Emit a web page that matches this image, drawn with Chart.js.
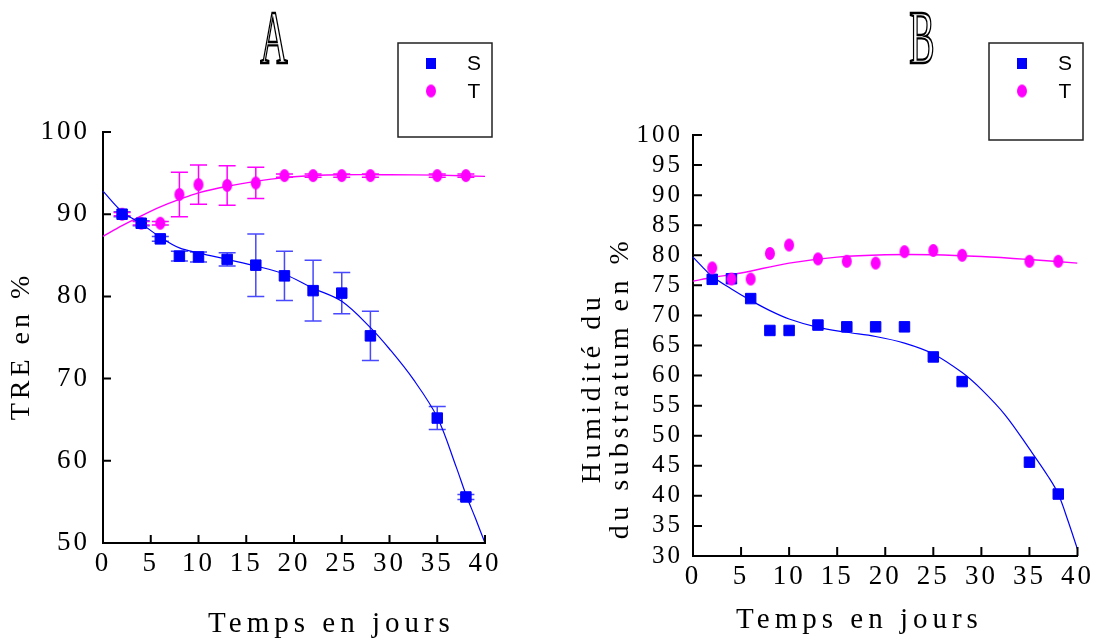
<!DOCTYPE html>
<html><head><meta charset="utf-8">
<script src="https://cdn.jsdelivr.net/npm/chart.js@4.4.1/dist/chart.umd.min.js"></script>
<style>
html,body{margin:0;padding:0;background:#fff;}
#wrap{position:relative;width:1096px;height:639px;overflow:hidden;background:#fff;}
canvas{position:absolute;top:0;}
</style></head><body>
<div id="wrap">
<canvas id="cA" width="548" height="639" style="left:0px"></canvas>
<canvas id="cB" width="548" height="639" style="left:548px"></canvas>
</div>
<script>
// ---------- data ----------
const days = [2, 4, 6, 8, 10, 13, 16, 19, 22, 25, 28, 35, 38];
const xTicks = [0, 5, 10, 15, 20, 25, 30, 35, 40];
const seriesNames = ['S', 'T'];

// Panel A : TRE en %
const treS    = [90.0, 88.9, 87.0, 84.9, 84.8, 84.5, 83.8, 82.5, 80.7, 80.4, 75.2, 65.2, 55.6];
const treSErr = [0.3, 0.3, 0.3, 0.6, 0.6, 0.8, 3.8, 3.0, 3.7, 2.5, 3.0, 1.4, 0.3];
const treT    = [90.0, 88.9, 88.9, 92.4, 93.6, 93.5, 93.8, 94.7, 94.7, 94.7, 94.7, 94.7, 94.7];
const treTErr = [0.2, 0.2, 0.2, 2.7, 2.4, 2.4, 1.9, 0.2, 0.2, 0.2, 0.2, 0.2, 0.2];
const treTicks = [50, 60, 70, 80, 90, 100];
// trend curves of panel A
const fitADaysS = [0, 2, 4, 6, 8, 10, 13, 16, 19, 22, 25, 28, 30, 32.5, 35, 37, 38, 39, 40];
const fitAS     = [92.8, 90.3, 88.85, 87.2, 85.9, 85.3, 84.5, 83.7, 82.7, 81.0, 79.4, 76.2, 73.6, 69.9, 65.3, 59.2, 55.9, 53.0, 50.0];
const fitADaysT = [0, 2, 4, 6, 8, 10, 13, 16, 19, 22, 25, 30, 35, 40];
const fitAT     = [87.3, 88.6, 89.8, 90.9, 91.8, 92.6, 93.4, 94.0, 94.45, 94.7, 94.8, 94.8, 94.75, 94.6];

// Panel B : Humidité du substratum en %
const humS = [76.0, 76.1, 72.8, 67.5, 67.5, 68.4, 68.1, 68.1, 68.1, 63.1, 59.0, 45.6, 40.3];
const humT = [77.9, 76.05, 76.05, 80.3, 81.7, 79.4, 79.0, 78.7, 80.6, 80.8, 80.0, 79.0, 79.0];
const humTicks = [30, 35, 40, 45, 50, 55, 60, 65, 70, 75, 80, 85, 90, 95, 100];
const fitBDaysS = [0, 2, 4, 6, 8, 10, 13, 16, 19, 22, 25, 28, 30, 32.5, 35, 37, 38, 39, 40];
const fitBS     = [79.7, 76.5, 74.4, 72.5, 70.8, 69.4, 68.0, 67.2, 66.5, 65.4, 63.6, 60.5, 57.7, 53.4, 47.8, 43.1, 40.3, 35.9, 31.1];
const fitBDaysT = [0, 2, 5, 10, 15, 20, 25, 30, 35, 40];
const fitBT     = [75.7, 76.3, 77.05, 78.7, 79.7, 80.1, 80.1, 79.8, 79.3, 78.7];

// ---------- helpers ----------
const SERIF = '"Liberation Serif", "Times New Roman", serif';
const SANS = '"Liberation Sans", Arial, sans-serif';
const BLUE = '#0000ff', MAGENTA = '#ff00ff';

function ellipseImg(w, h, color) {
  const c = document.createElement('canvas');
  c.width = w + 2; c.height = h + 2;
  const g = c.getContext('2d');
  g.fillStyle = color;
  g.beginPath();
  g.ellipse(c.width / 2, c.height / 2, w / 2, h / 2, 0, 0, Math.PI * 2);
  g.fill();
  return c;
}
const dotImg = ellipseImg(10, 13, MAGENTA);
const pts = (xs, ys) => xs.map((x, i) => ({x: x, y: ys[i]}));

const decor = {
  id: 'decor',
  beforeDraw(chart) {
    chart.ctx.letterSpacing = chart.options.plugins.decor.tickSpacing || '0px';
  },
  beforeDatasetsDraw(chart) {
    const {ctx, scales: {x, y}} = chart;
    chart.data.datasets.forEach(ds => {
      if (!ds.errors) return;
      ctx.save();
      ctx.strokeStyle = ds.errorColor;
      ctx.lineWidth = 1.5;
      ds.data.forEach((p, j) => {
        const e = ds.errors[j];
        const px = x.getPixelForValue(p.x);
        const yt = y.getPixelForValue(p.y + e), yb = y.getPixelForValue(p.y - e);
        ctx.beginPath();
        ctx.moveTo(px, yt); ctx.lineTo(px, yb);
        ctx.moveTo(px - 8.5, yt); ctx.lineTo(px + 8.5, yt);
        ctx.moveTo(px - 8.5, yb); ctx.lineTo(px + 8.5, yb);
        ctx.stroke();
      });
      ctx.restore();
    });
  },
  afterDraw(chart) {
    const o = chart.options.plugins.decor;
    const {ctx, chartArea: ca, scales: {x, y}} = chart;
    ctx.save();
    ctx.letterSpacing = '0px';
    // inward tick marks
    ctx.strokeStyle = '#000'; ctx.lineWidth = 2;
    ctx.beginPath();
    y.ticks.forEach(t => { const py = y.getPixelForValue(t.value); ctx.moveTo(ca.left, py); ctx.lineTo(ca.left + o.tickLen, py); });
    x.ticks.forEach(t => { const px = x.getPixelForValue(t.value); ctx.moveTo(px, ca.bottom); ctx.lineTo(px, ca.bottom - o.tickLen); });
    ctx.stroke();
    // panel letter (outlined)
    ctx.save();
    ctx.font = '76px ' + SERIF;
    ctx.textAlign = 'center'; ctx.textBaseline = 'alphabetic';
    ctx.translate(o.letter.x, o.letter.y);
    ctx.scale(0.5, 1);
    ctx.lineWidth = 2.4; ctx.strokeStyle = '#000';
    ctx.strokeText(o.letter.text, 0, 0);
    ctx.restore();
    // x title
    ctx.fillStyle = '#000';
    ctx.font = '29px ' + SERIF;
    ctx.letterSpacing = '5px';
    ctx.textAlign = 'center'; ctx.textBaseline = 'middle';
    ctx.fillText(o.xTitle.text, o.xTitle.x + 2.5, o.xTitle.y);
    // y title
    ctx.font = '28px ' + SERIF;
    ctx.letterSpacing = o.yTitle.spacing;
    o.yTitle.lines.forEach((ln, i) => {
      ctx.save();
      ctx.translate(o.yTitle.x[i], o.yTitle.y);
      ctx.rotate(-Math.PI / 2);
      ctx.fillText(ln, 2, 0);
      ctx.restore();
    });
    // legend box
    ctx.letterSpacing = '0px';
    const L = o.legend;
    ctx.strokeStyle = '#222'; ctx.lineWidth = 1.5;
    ctx.strokeRect(L.x, L.y, L.w, L.h);
    ctx.fillStyle = BLUE;
    ctx.fillRect(L.x + 28, L.y + 15, 10, 11);
    ctx.drawImage(dotImg, L.x + 33 - dotImg.width / 2, L.y + 48 - dotImg.height / 2);
    ctx.fillStyle = '#000';
    ctx.font = '21px ' + SANS;
    ctx.textAlign = 'center'; ctx.textBaseline = 'middle';
    ctx.fillText(seriesNames[0], L.x + 76, L.y + 21);
    ctx.fillText(seriesNames[1], L.x + 76, L.y + 49);
    ctx.restore();
  }
};

function makeChart(id, p) {
  return new Chart(document.getElementById(id), {
    type: 'scatter',
    data: {
      datasets: [
        {label: seriesNames[0], data: pts(days, p.S), pointStyle: 'rect', pointRadius: 7.4, borderWidth: 1,
         backgroundColor: BLUE, borderColor: BLUE, errors: p.SErr, errorColor: 'rgba(40,40,255,0.85)', order: p.sOrder},
        {label: seriesNames[1], data: pts(days, p.T), pointStyle: dotImg, pointRadius: 6,
         backgroundColor: MAGENTA, borderColor: MAGENTA, errors: p.TErr, errorColor: MAGENTA, order: p.tOrder},
        {type: 'line', label: 'S (courbe)', data: pts(p.fitDaysS, p.fitS), borderColor: BLUE, borderWidth: 1.2,
         pointRadius: 0, fill: false, tension: 0.35, order: 5},
        {type: 'line', label: 'T (courbe)', data: pts(p.fitDaysT, p.fitT), borderColor: MAGENTA, borderWidth: 1.4,
         pointRadius: 0, fill: false, tension: 0.35, order: 6}
      ]
    },
    options: {
      responsive: false, animation: false, devicePixelRatio: 1,
      layout: {padding: {top: p.top, right: p.right, left: 0, bottom: 0}},
      plugins: {legend: {display: false}, tooltip: {enabled: false}, decor: p.decor},
      scales: {
        x: {type: 'linear', min: 0, max: 40,
            afterBuildTicks: s => { s.ticks = xTicks.map(v => ({value: v})); },
            ticks: {color: '#000', font: {family: SERIF, size: 27}, padding: 5, maxRotation: 0, autoSkip: false},
            grid: {display: true, drawOnChartArea: false, drawTicks: false},
            border: {display: true, color: '#000', width: 2},
            afterFit: s => { s.height = p.xH; }},
        y: {type: 'linear', min: p.yTicks[0], max: p.yTicks[p.yTicks.length - 1],
            afterBuildTicks: s => { s.ticks = p.yTicks.map(v => ({value: v})); },
            ticks: {color: '#000', font: {family: SERIF, size: p.yFont}, padding: p.yPad, autoSkip: false},
            grid: {display: true, drawOnChartArea: false, drawTicks: false},
            border: {display: true, color: '#000', width: 2},
            afterFit: s => { s.width = p.yW; }}
      }
    },
    plugins: [decor]
  });
}

makeChart('cA', {
  S: treS, SErr: treSErr, T: treT, TErr: treTErr, sOrder: 1, tOrder: 2,
  fitDaysS: fitADaysS, fitS: fitAS, fitDaysT: fitADaysT, fitT: fitAT,
  yTicks: treTicks, yFont: 27, yPad: 13, yW: 103, xH: 96, top: 132, right: 63,
  decor: {tickSpacing: '3px', tickLen: 8,
    letter: {text: 'A', x: 274, y: 63},
    xTitle: {text: 'Temps en jours', x: 329, y: 624},
    yTitle: {lines: ['TRE en %'], x: [22], y: 348, spacing: '4px'},
    legend: {x: 398, y: 43, w: 94, h: 94}}
});

makeChart('cB', {
  S: humS, SErr: null, T: humT, TErr: null, sOrder: 2, tOrder: 1,
  fitDaysS: fitBDaysS, fitS: fitBS, fitDaysT: fitBDaysT, fitT: fitBT,
  yTicks: humTicks, yFont: 25, yPad: 10, yW: 145, xH: 83, top: 135, right: 18,
  decor: {tickSpacing: '3px', tickLen: 9,
    letter: {text: 'B', x: 374, y: 63},
    xTitle: {text: 'Temps en jours', x: 309, y: 620},
    yTitle: {lines: ['Humidité du', 'du substratum en %'], x: [45, 73], y: 390, spacing: '4.5px'},
    legend: {x: 441, y: 43, w: 94, h: 97}}
});
</script>
</body></html>
